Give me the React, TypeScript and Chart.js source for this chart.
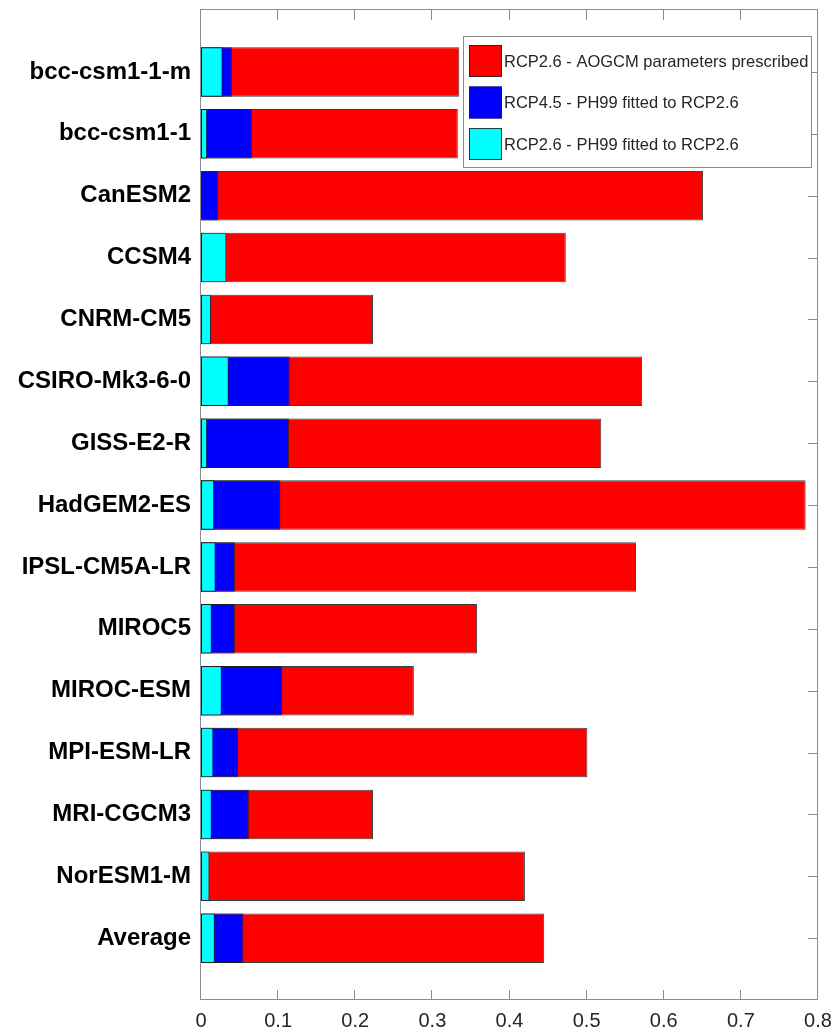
import { useEffect, useRef } from 'react';
import { Chart, registerables } from 'chart.js';

Chart.register(...registerables);

// Climate models, top to bottom
const models = [
  'bcc-csm1-1-m',
  'bcc-csm1-1',
  'CanESM2',
  'CCSM4',
  'CNRM-CM5',
  'CSIRO-Mk3-6-0',
  'GISS-E2-R',
  'HadGEM2-ES',
  'IPSL-CM5A-LR',
  'MIROC5',
  'MIROC-ESM',
  'MPI-ESM-LR',
  'MRI-CGCM3',
  'NorESM1-M',
  'Average',
];

// RCP2.6 - AOGCM parameters prescribed
const prescribed26 = [0.335, 0.333, 0.651, 0.473, 0.223, 0.572, 0.519, 0.784, 0.564, 0.358, 0.276, 0.501, 0.223, 0.42, 0.445];
// RCP4.5 - PH99 fitted to RCP2.6
const fitted45 = [0.04, 0.066, 0.022, 0.003, 0, 0.115, 0.114, 0.103, 0.044, 0.044, 0.105, 0.048, 0.062, 0, 0.055];
// RCP2.6 - PH99 fitted to RCP2.6
const fitted26 = [0.028, 0.008, 0, 0.033, 0.013, 0.036, 0.008, 0.017, 0.019, 0.014, 0.027, 0.016, 0.014, 0.011, 0.018];

const seriesLabels = [
  'RCP2.6 - AOGCM parameters prescribed',
  'RCP4.5 - PH99 fitted to RCP2.6',
  'RCP2.6 - PH99 fitted to RCP2.6',
];
const seriesColors = ['#ff0000', '#0000ff', '#00ffff'];

const xTicks = [0, 0.1, 0.2, 0.3, 0.4, 0.5, 0.6, 0.7, 0.8];

const FONT = "'Liberation Sans', Arial, sans-serif";
const FRAME = '#8c8c8c';
const EDGE = 'rgba(30,30,30,0.85)';

// pad one empty slot above and below so the category axis spans 0..16
const pad = (arr: number[]) => [null, ...arr.map((v) => (v === 0 ? null : v)), null];

const framePlugin = {
  id: 'boxFrame',
  beforeDatasetsDraw(chart: any) {
    const { ctx, chartArea } = chart;
    const { left, right, top, bottom } = chartArea;
    const xs = chart.scales.x;
    const ys = chart.scales.y;
    ctx.save();
    ctx.strokeStyle = FRAME;
    ctx.lineWidth = 1;
    ctx.strokeRect(left - 0.5, top - 0.5, right - left, bottom - top);
    ctx.beginPath();
    const tl = 10;
    xTicks.forEach((v) => {
      const px = Math.round(xs.getPixelForValue(v)) - 0.5;
      ctx.moveTo(px, bottom);
      ctx.lineTo(px, bottom - tl);
      ctx.moveTo(px, top);
      ctx.lineTo(px, top + tl);
    });
    models.forEach((_, i) => {
      const py = Math.round(ys.getPixelForValue(i + 1)) + 0.5;
      ctx.moveTo(left, py);
      ctx.lineTo(left + tl, py);
      ctx.moveTo(right, py);
      ctx.lineTo(right - tl, py);
    });
    ctx.stroke();
    ctx.restore();
  },
};

const legendPlugin = {
  id: 'insideLegend',
  afterDatasetsDraw(chart: any) {
    const { ctx, chartArea } = chart;
    const boxRight = chartArea.right - 6;
    const boxLeft = boxRight - 349;
    const boxTop = chartArea.top + 26;
    const boxH = 132;
    ctx.save();
    ctx.fillStyle = '#ffffff';
    ctx.fillRect(boxLeft, boxTop, boxRight - boxLeft, boxH);
    ctx.strokeStyle = FRAME;
    ctx.lineWidth = 1;
    ctx.strokeRect(boxLeft + 0.5, boxTop + 0.5, boxRight - boxLeft - 1, boxH - 1);
    ctx.font = `16.5px ${FONT}`;
    ctx.textBaseline = 'middle';
    ctx.textAlign = 'left';
    seriesLabels.forEach((label, i) => {
      const cy = boxTop + 25 + i * 41.5;
      ctx.fillStyle = seriesColors[i];
      ctx.fillRect(boxLeft + 6, cy - 16, 33, 32);
      ctx.strokeStyle = EDGE;
      ctx.strokeRect(boxLeft + 6.5, cy - 15.5, 32, 31);
      ctx.fillStyle = '#262626';
      ctx.fillText(label, boxLeft + 41, cy + 1);
    });
    ctx.restore();
  },
};

export default function App() {
  const canvasRef = useRef<HTMLCanvasElement | null>(null);

  useEffect(() => {
    const canvas = canvasRef.current;
    if (!canvas) return;
    const bar = (data: (number | null)[], color: string, label: string) => ({
      label,
      data,
      backgroundColor: color,
      borderColor: EDGE,
      borderWidth: 1,
      borderSkipped: false,
      grouped: false,
      barPercentage: 0.8,
      categoryPercentage: 1,
    });
    const chart = new Chart(canvas, {
      type: 'bar',
      data: {
        labels: ['', ...models, ''],
        // first dataset is painted last, so cyan sits on top of blue, blue on top of red
        datasets: [
          bar(pad(fitted26), seriesColors[2], seriesLabels[2]),
          bar(pad(fitted45), seriesColors[1], seriesLabels[1]),
          bar(pad(prescribed26), seriesColors[0], seriesLabels[0]),
        ],
      },
      options: {
        indexAxis: 'y',
        animation: false,
        responsive: false,
        devicePixelRatio: 1,
        layout: { padding: { left: 0, right: 16, top: 10, bottom: 0 } },
        plugins: {
          legend: { display: false },
          tooltip: { enabled: false },
        },
        scales: {
          x: {
            type: 'linear',
            min: 0,
            max: 0.8,
            grid: { display: false, drawTicks: false },
            border: { display: false },
            afterBuildTicks: (scale: any) => {
              scale.ticks = xTicks.map((v) => ({ value: v }));
            },
            afterFit: (scale: any) => {
              scale.height = 31;
              scale.paddingLeft = 0;
              scale.paddingRight = 0;
            },
            ticks: {
              autoSkip: false,
              maxRotation: 0,
              padding: 9,
              color: '#262626',
              font: { family: FONT, size: 20 },
              callback: (v: any) => String(Number(v)),
            },
          },
          y: {
            type: 'category',
            offset: false,
            grid: { display: false, drawTicks: false },
            border: { display: false },
            afterFit: (scale: any) => {
              scale.width = 201;
              scale.paddingTop = 0;
              scale.paddingBottom = 0;
            },
            ticks: {
              autoSkip: false,
              padding: 10,
              color: '#000000',
              font: { family: FONT, size: 24, weight: 'bold' },
            },
          },
        },
      },
      plugins: [framePlugin, legendPlugin],
    } as any);
    return () => chart.destroy();
  }, []);

  return (
    <div style={{ position: 'absolute', left: 0, top: 0, width: 834, height: 1031, background: '#fff' }}>
      <canvas ref={canvasRef} width={834} height={1031} />
    </div>
  );
}
